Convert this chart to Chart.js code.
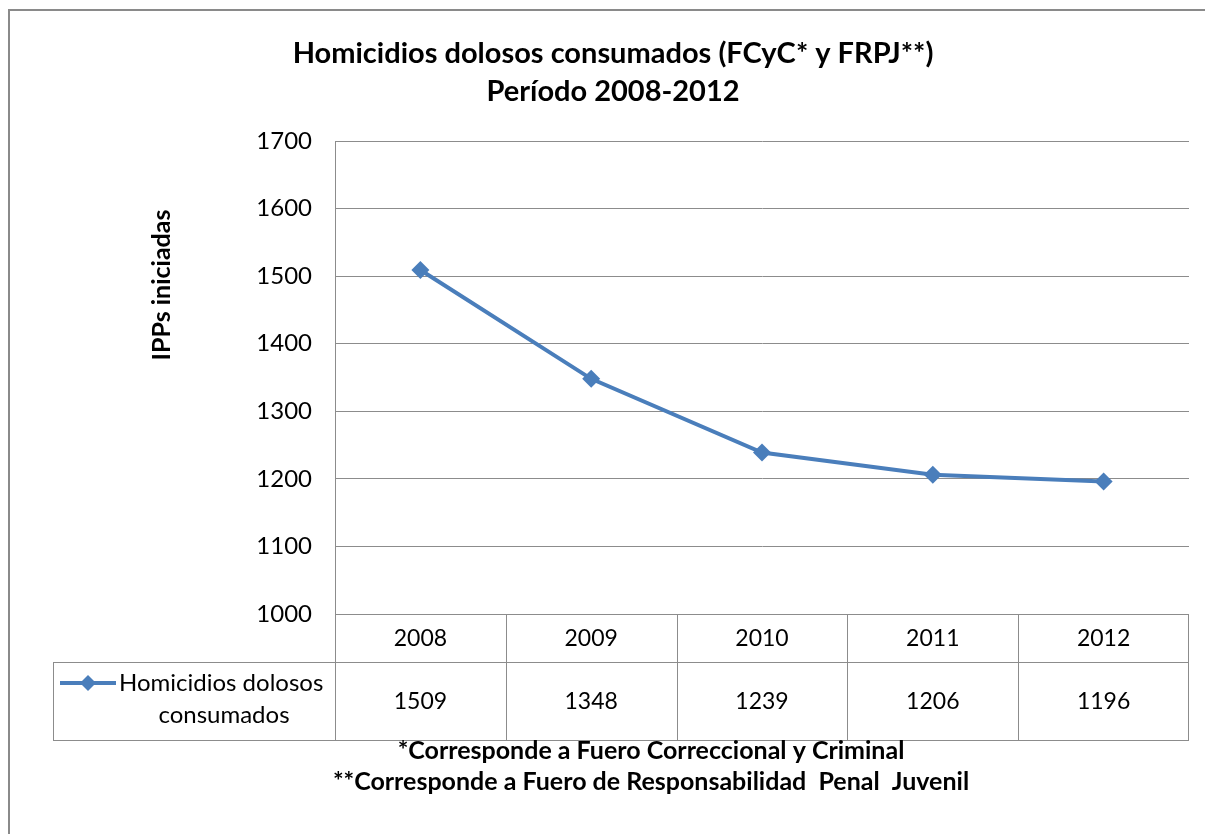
<!DOCTYPE html>
<html>
<head>
<meta charset="utf-8">
<script src="https://cdn.jsdelivr.net/npm/chart.js@4.4.0/dist/chart.umd.min.js"></script>
<style>
  html, body { margin: 0; padding: 0; background: #ffffff; }
  #wrap { width: 1205px; height: 834px; position: relative; }
</style>
</head>
<body>
<div id="wrap"><canvas id="c" width="1205" height="834"></canvas></div>
<script>
const categories = ['2008', '2009', '2010', '2011', '2012'];
const seriesName = 'Homicidios dolosos consumados';
const seriesLegendLines = ['Homicidios dolosos', 'consumados'];
const values = [1509, 1348, 1239, 1206, 1196];
const yTicks = { min: 1000, max: 1700, step: 100 };
const titleLines = ['Homicidios dolosos consumados (FCyC* y FRPJ**)', 'Período 2008-2012'];
const yAxisTitle = 'IPPs iniciadas';
const footnotes = ['*Corresponde a Fuero Correccional y Criminal', '**Corresponde a Fuero de Responsabilidad  Penal  Juvenil'];

const FONT = 'Lato, "Open Sans", sans-serif';
const LINE_COLOR = '#4A7EBB';
const GRID_COLOR = '#8c8c8c';

const decor = {
  id: 'decor',
  afterDraw(chart) {
    const ctx = chart.ctx;
    const area = chart.chartArea;
    const xs = chart.scales.x;
    ctx.save();
    // outer frame
    ctx.strokeStyle = '#8a8a8a';
    ctx.lineWidth = 2;
    ctx.beginPath();
    ctx.moveTo(9, 840);
    ctx.lineTo(9, 10);
    ctx.lineTo(1210, 10);
    ctx.stroke();

    // title
    ctx.fillStyle = '#000';
    ctx.textAlign = 'center';
    ctx.textBaseline = 'middle';
    ctx.font = 'bold 29px ' + FONT;
    ctx.fillText(titleLines[0], 613, 54);
    ctx.fillText(titleLines[1], 613, 92);

    // y axis title
    ctx.save();
    ctx.translate(162, 285);
    ctx.rotate(-Math.PI / 2);
    ctx.font = 'bold 25px ' + FONT;
    ctx.fillText(yAxisTitle, 0, 0);
    ctx.restore();

    // data table
    const half = (xs.getPixelForValue(1) - xs.getPixelForValue(0)) / 2;
    const top = area.bottom;
    const row1 = top + 48;
    const row2 = row1 + 78;
    const legendLeft = 53;
    ctx.strokeStyle = GRID_COLOR;
    ctx.lineWidth = 1;
    ctx.beginPath();
    ctx.moveTo(area.left, top + 0.5); ctx.lineTo(area.right, top + 0.5);
    ctx.moveTo(legendLeft, row1 + 0.5); ctx.lineTo(area.right, row1 + 0.5);
    ctx.moveTo(legendLeft, row2 + 0.5); ctx.lineTo(area.right, row2 + 0.5);
    ctx.moveTo(legendLeft + 0.5, row1); ctx.lineTo(legendLeft + 0.5, row2);
    for (let i = 0; i < categories.length; i++) {
      const l = Math.round(xs.getPixelForValue(i) - half) + 0.5;
      ctx.moveTo(l, top); ctx.lineTo(l, row2);
    }
    const r = Math.round(xs.getPixelForValue(categories.length - 1) + half) - 0.5;
    ctx.moveTo(r, top); ctx.lineTo(r, row2);
    ctx.stroke();

    ctx.fillStyle = '#000';
    ctx.font = '23px ' + FONT;
    ctx.textAlign = 'center';
    for (let i = 0; i < categories.length; i++) {
      const cx = xs.getPixelForValue(i);
      ctx.fillText(categories[i], cx, (top + row1) / 2 + 1);
      ctx.fillText(String(values[i]), cx, (row1 + row2) / 2 + 1);
    }

    // legend key
    ctx.strokeStyle = LINE_COLOR;
    ctx.lineWidth = 4;
    ctx.beginPath();
    ctx.moveTo(60, 683); ctx.lineTo(116, 683);
    ctx.stroke();
    ctx.fillStyle = LINE_COLOR;
    ctx.beginPath();
    ctx.moveTo(88, 675); ctx.lineTo(96, 683); ctx.lineTo(88, 691); ctx.lineTo(80, 683);
    ctx.closePath();
    ctx.fill();
    ctx.fillStyle = '#000';
    ctx.font = '24px ' + FONT;
    ctx.textAlign = 'left';
    ctx.fillText(seriesLegendLines[0], 119, 683);
    ctx.textAlign = 'center';
    ctx.fillText(seriesLegendLines[1], 224, 715);

    // footnotes
    ctx.font = 'bold 25px ' + FONT;
    ctx.fillText(footnotes[0], 651, 751);
    ctx.fillText(footnotes[1], 651, 782);
    ctx.restore();
  }
};

new Chart(document.getElementById('c'), {
  type: 'line',
  data: {
    labels: categories,
    datasets: [{
      label: seriesName,
      data: values,
      borderColor: LINE_COLOR,
      backgroundColor: LINE_COLOR,
      borderWidth: 4,
      pointStyle: 'rectRot',
      pointRadius: 9,
      pointHoverRadius: 9,
      pointBackgroundColor: LINE_COLOR,
      pointBorderColor: LINE_COLOR,
      pointBorderWidth: 0,
      tension: 0
    }]
  },
  options: {
    responsive: false,
    animation: false,
    events: [],
    layout: { padding: { left: 0, top: 141, right: 16, bottom: 220 } },
    plugins: { legend: { display: false }, title: { display: false }, tooltip: { enabled: false } },
    scales: {
      x: { display: false, offset: true },
      y: {
        min: yTicks.min,
        max: yTicks.max,
        afterFit(scale) { scale.width = 335; },
        ticks: {
          stepSize: yTicks.step,
          padding: 23,
          color: '#000',
          font: { family: FONT, size: 24 },
          callback: (v) => String(v)
        },
        grid: { color: GRID_COLOR, drawTicks: false, lineWidth: 1 },
        border: { color: GRID_COLOR, width: 1 }
      }
    }
  },
  plugins: [decor]
});
</script>
</body>
</html>
